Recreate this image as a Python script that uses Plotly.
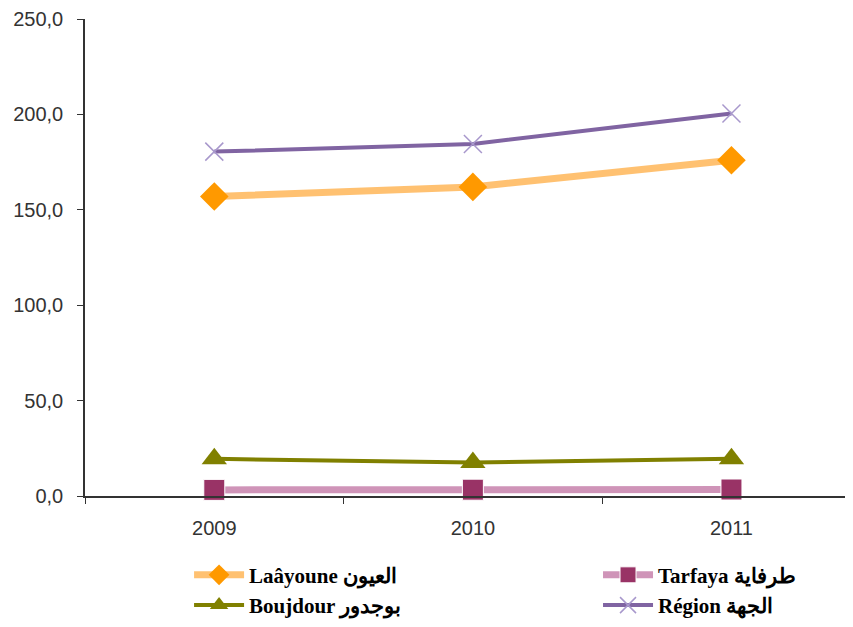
import plotly.graph_objects as go

# Data
years = ['2009', '2010', '2011']
laayoune = [157.0, 162.0, 176.0]
tarfaya = [3.2, 3.3, 3.4]
boujdour = [19.5, 17.5, 19.5]
region = [180.5, 184.5, 200.5]

fig = go.Figure()

# Laâyoune: light orange hatched line, orange diamonds
fig.add_trace(go.Scatter(
    name='Laâyoune العيون', x=years, y=laayoune, mode='lines+markers',
    line=dict(color='rgba(255, 190, 105, 0.95)', width=7),
    marker=dict(symbol='diamond', size=22, color='#FF9900'),
    cliponaxis=False, legend='legend',
))

# Tarfaya: pink hatched line, plum squares
fig.add_trace(go.Scatter(
    name='Tarfaya طرفاية', x=years, y=tarfaya, mode='lines+markers',
    line=dict(color='#CF94B8', width=7),
    marker=dict(symbol='square', size=21, color='#993366',
                line=dict(color='white', width=1)),
    cliponaxis=False, legend='legend2',
))

# Boujdour: olive line with triangles
fig.add_trace(go.Scatter(
    name='Boujdour بوجدور', x=years, y=boujdour, mode='lines+markers',
    line=dict(color='#808000', width=4),
    marker=dict(symbol='triangle-up', size=22, color='#808000'),
    cliponaxis=False, legend='legend',
))

# Région: purple line with light x markers
fig.add_trace(go.Scatter(
    name='Région الجهة', x=years, y=region, mode='lines+markers',
    line=dict(color='#8064A2', width=4),
    marker=dict(symbol='x-thin', size=18, color='#A898CC',
                line=dict(color='#A898CC', width=1.5)),
    cliponaxis=False, legend='legend2',
))

legend_font = dict(family='Liberation Serif, DejaVu Serif', size=21,
                   color='black', weight='bold')

# page body has an 8px margin, so the figure is shrunk by 8px to fit the window
fig.update_layout(
    width=845, height=619,
    margin=dict(l=77, r=0, t=11, b=131),
    plot_bgcolor='white',
    paper_bgcolor='white',
    separators=', ',
    font=dict(family='Liberation Sans, Arial', size=20, color='#333333'),
    xaxis=dict(
        type='category', range=[-0.5, 2.47], automargin=False,
        tickson='boundaries', ticks='outside', ticklen=6, tickcolor='#333333',
        ticklabelstandoff=13,
        showline=True, linecolor='#333333', linewidth=1.5,
        showgrid=False, zeroline=False,
        tickfont=dict(size=20, color='#333333'),
    ),
    yaxis=dict(
        range=[0, 250], dtick=50, tickformat='.1f', automargin=False,
        ticks='outside', ticklen=6, tickcolor='#333333',
        ticklabelstandoff=10,
        showline=True, linecolor='#333333', linewidth=1.5,
        showgrid=False, zeroline=False,
        tickfont=dict(size=20, color='#333333'),
    ),
    legend=dict(
        x=0.1355, y=-0.123, xanchor='left', yanchor='top',
        orientation='v', font=legend_font, tracegroupgap=0,
        itemwidth=50, bgcolor='rgba(0,0,0,0)',
    ),
    legend2=dict(
        x=0.668, y=-0.123, xanchor='left', yanchor='top',
        orientation='v', font=legend_font, tracegroupgap=0,
        itemwidth=50, bgcolor='rgba(0,0,0,0)',
    ),
)

fig.write_html("out.html")
